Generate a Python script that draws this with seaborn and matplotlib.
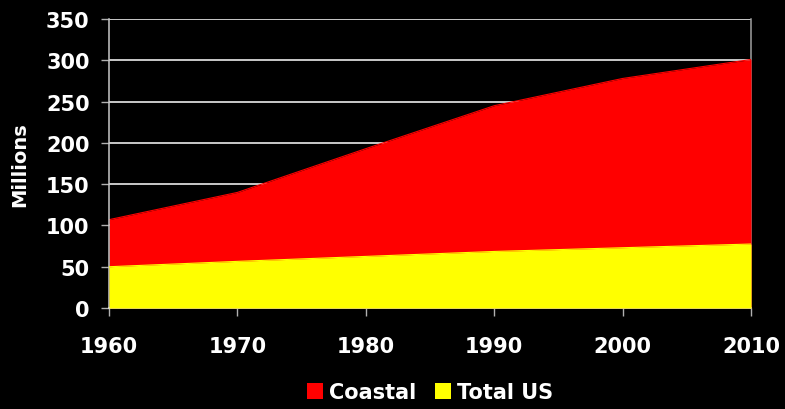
import numpy as np
import pandas as pd
import matplotlib
matplotlib.use("Agg")
import matplotlib.pyplot as plt
from matplotlib.patches import Patch
import seaborn as sns

years = [1960, 1970, 1980, 1990, 2000, 2010]
coastal = [107, 140, 193, 245, 278, 301]
total_us = [50, 56.5, 62.5, 68.5, 73, 77.5]
yticks = [0, 50, 100, 150, 200, 250, 300, 350]

df = pd.DataFrame({"year": years, "Coastal": coastal, "Total US": total_us})

sns.set_theme(style="dark", rc={
    "figure.facecolor": "black",
    "axes.facecolor": "black",
    "text.color": "white",
    "axes.labelcolor": "white",
    "xtick.color": "white",
    "ytick.color": "white",
})
plt.rcParams["font.family"] = ["DejaVu Sans"]
plt.rcParams["font.weight"] = "bold"

fig = plt.figure(figsize=(7.85, 4.10), dpi=100)
ax = fig.add_axes([0.1389, 0.2463, 0.8178, 0.7049])

# grid lines
for v in yticks[1:]:
    ax.axhline(v, color="#ffffff", lw=1.1, zorder=0)

ax.fill_between(df["year"], 0, df["Coastal"], color="#ff0000", lw=0, zorder=2)
ax.fill_between(df["year"], 0, df["Total US"], color="#ffff00", lw=0, zorder=3)
sns.lineplot(data=df, x="year", y="Coastal", color="#ff0000", lw=0.8, ax=ax, zorder=2)
sns.lineplot(data=df, x="year", y="Total US", color="#ffff00", lw=0.8, ax=ax, zorder=3)

ax.set_xlim(1960, 2010)
ax.set_ylim(0, 350)
ax.set_xticks(years)
ax.set_yticks(yticks)
ax.set_xticklabels([str(y) for y in years], fontsize=15, fontweight="bold")
ax.set_yticklabels([str(v) for v in yticks], fontsize=15, fontweight="bold")
ax.tick_params(axis="x", length=6, width=1, color="#b0b0b0", pad=14, direction="out")
ax.tick_params(axis="y", length=6, width=1, color="#b0b0b0", pad=8, direction="out")
ax.tick_params(bottom=True, left=True)
ax.set_xlabel("")
ax.set_ylabel("Millions", fontsize=14, fontweight="bold", labelpad=12)

ax.spines["top"].set_visible(False)
ax.spines["left"].set_color("#c8c8c8")
ax.spines["bottom"].set_color("#e8e8e8")
ax.spines["right"].set_color("#a0a0a0")
ax.spines["right"].set_zorder(1)
for s in ["left", "bottom", "right"]:
    ax.spines[s].set_linewidth(1.1)
    ax.spines[s].set_visible(True)

handles = [Patch(facecolor="#ff0000", edgecolor="none", label="Coastal"),
           Patch(facecolor="#ffff00", edgecolor="none", label="Total US")]
fig.legend(handles=handles, loc="center", bbox_to_anchor=(0.548, 0.041), ncol=2,
           frameon=False, prop={"weight": "bold", "size": 15},
           handlelength=0.75, handleheight=0.75, handletextpad=0.3, columnspacing=0.9,
           labelcolor="white")

fig.savefig("out.png", dpi=100, facecolor="black")
